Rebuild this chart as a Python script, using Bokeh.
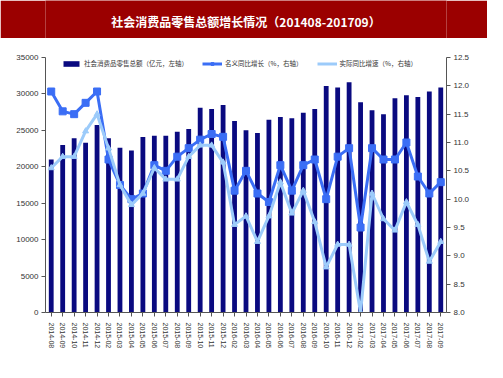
import math
from bokeh.plotting import figure
from bokeh.models import Range1d, LinearAxis, FixedTicker, Legend, LegendItem, ColumnDataSource, NumeralTickFormatter
from bokeh.layouts import column
from bokeh.core.properties import value
from bokeh.embed import file_html
from bokeh.resources import INLINE

months = ["2014-08", "2014-09", "2014-10", "2014-11", "2014-12",
          "2015-02", "2015-03", "2015-04", "2015-05", "2015-06", "2015-07", "2015-08",
          "2015-09", "2015-10", "2015-11", "2015-12",
          "2016-02", "2016-03", "2016-04", "2016-05", "2016-06", "2016-07", "2016-08",
          "2016-09", "2016-10", "2016-11", "2016-12",
          "2017-02", "2017-03", "2017-04", "2017-05", "2017-06", "2017-07", "2017-08", "2017-09"]

retail_total = [21000, 22980, 23900, 23300, 25730,
                23900, 22600, 22250, 24080, 24270, 24270, 24800,
                25180, 28120, 27940, 28490,
                26280, 25000, 24630, 26470, 26830, 26650, 27430,
                27940, 31100, 30870, 31600,
                28850, 27750, 27200, 29400, 29820, 29590, 30320, 30870]

nominal_growth = [11.9, 11.55, 11.5, 11.7, 11.9,
                  10.7, 10.25, 10.0, 10.1, 10.6, 10.5, 10.75,
                  10.9, 11.05, 11.15, 11.1,
                  10.15, 10.5, 10.1, 9.95, 10.6, 10.15, 10.6,
                  10.7, 10.0, 10.75, 10.9,
                  9.5, 10.9, 10.7, 10.7, 11.0, 10.4, 10.1, 10.3]

real_growth = [10.55, 10.75, 10.75, 11.2, 11.5,
               10.9, 10.25, 9.9, 10.1, 10.55, 10.35, 10.35,
               10.75, 10.95, 10.95, 10.65,
               9.55, 9.7, 9.25, 9.7, 10.3, 9.75, 10.15,
               9.6, 8.8, 9.2, 9.2,
               8.0, 10.1, 9.65, 9.45, 9.95, 9.55, 8.9, 9.25]

title_text = "社会消费品零售总额增长情况（201408-201709）"
legend_labels = ["社会消费品零售总额（亿元，左轴）", "名义同比增长（%，右轴）", "实际同比增速（%，右轴）"]

W = 487
TITLE_H = 38
MAIN_H = 324

# Title bar
t = figure(width=W, height=TITLE_H, x_range=Range1d(0, 1), y_range=Range1d(0, 1),
           output_backend="svg", toolbar_location=None,
           min_border_left=0, min_border_right=0, min_border_top=0, min_border_bottom=0)
t.axis.visible = False
t.grid.visible = False
t.outline_line_color = None
t.background_fill_color = "#9B0000"
t.border_fill_color = "#9B0000"
t.text(x=[0.5], y=[0.45], text=[title_text], text_align="center", text_baseline="middle",
       text_color="white", text_font=value("Noto Sans CJK SC"), text_font_style="bold",
       text_font_size="12px")

# Main chart
p = figure(width=W, height=MAIN_H, x_range=months, y_range=Range1d(0, 35000),
           output_backend="svg", toolbar_location=None,
           min_border_left=45, min_border_right=41, min_border_top=19, min_border_bottom=50)
p.extra_y_ranges = {"right": Range1d(8.0, 12.5)}
p.grid.visible = False
p.outline_line_color = None
p.background_fill_color = "white"
p.border_fill_color = "white"

src = ColumnDataSource(dict(m=months, total=retail_total, nom=nominal_growth, real=real_growth))

bars = p.vbar(x="m", top="total", width=0.42, source=src, fill_color="#0A0A80", line_color=None)
nom_line = p.line(x="m", y="nom", source=src, y_range_name="right", line_color="#3B6EF5", line_width=3)
nom_pts = p.scatter(x="m", y="nom", source=src, y_range_name="right", marker="square", size=7,
                    fill_color="#3B6EF5", line_color="#3B6EF5")
real_line = p.line(x="m", y="real", source=src, y_range_name="right", line_color="#9CCBFA", line_width=3)
real_pts = p.scatter(x="m", y="real", source=src, y_range_name="right", marker="triangle", size=6,
                     fill_color="#9CCBFA", line_color="#9CCBFA")

# Axes styling
lab_font = "Liberation Sans"
ax = p.yaxis[0]
ax.ticker = FixedTicker(ticks=list(range(0, 35001, 5000)))
ax.axis_line_color = "#555555"
ax.major_tick_line_color = "#555555"
ax.major_tick_out = 4
ax.major_tick_in = 0
ax.minor_tick_line_color = None
ax.major_label_text_font = lab_font
ax.major_label_text_font_size = "8px"
ax.major_label_text_color = "#333333"
ax.major_label_standoff = 3

ry = LinearAxis(y_range_name="right", ticker=FixedTicker(ticks=[8.0 + 0.5 * i for i in range(10)]))
ry.formatter = NumeralTickFormatter(format="0.0")
ry.axis_line_color = "#555555"
ry.major_tick_line_color = "#555555"
ry.major_tick_out = 4
ry.major_tick_in = 0
ry.minor_tick_line_color = None
ry.major_label_text_font = lab_font
ry.major_label_text_font_size = "8px"
ry.major_label_text_color = "#333333"
ry.major_label_standoff = 3
p.add_layout(ry, "right")

xa = p.xaxis[0]
xa.axis_line_color = "#555555"
xa.major_tick_line_color = "#555555"
xa.major_tick_out = 4
xa.major_tick_in = 0
xa.major_label_orientation = -math.pi / 2
xa.major_label_text_font = lab_font
xa.major_label_text_font_size = "7px"
xa.major_label_text_color = "#333333"
xa.major_label_standoff = 6

legend = Legend(items=[
    LegendItem(label=legend_labels[0], renderers=[bars]),
    LegendItem(label=legend_labels[1], renderers=[nom_line, nom_pts]),
    LegendItem(label=legend_labels[2], renderers=[real_line]),
], orientation="horizontal", location=(16, 244))
legend.label_text_font = "Noto Sans CJK SC"
legend.label_text_font_size = "6.5px"
legend.label_text_color = "#333333"
legend.glyph_width = 20
legend.glyph_height = 7
legend.spacing = 14
legend.padding = 0
legend.margin = 0
legend.label_standoff = 3
legend.border_line_color = None
legend.background_fill_alpha = 0
p.add_layout(legend, "center")

layout = column(t, p, spacing=0)
open("out.html", "w").write(file_html(layout, INLINE))
